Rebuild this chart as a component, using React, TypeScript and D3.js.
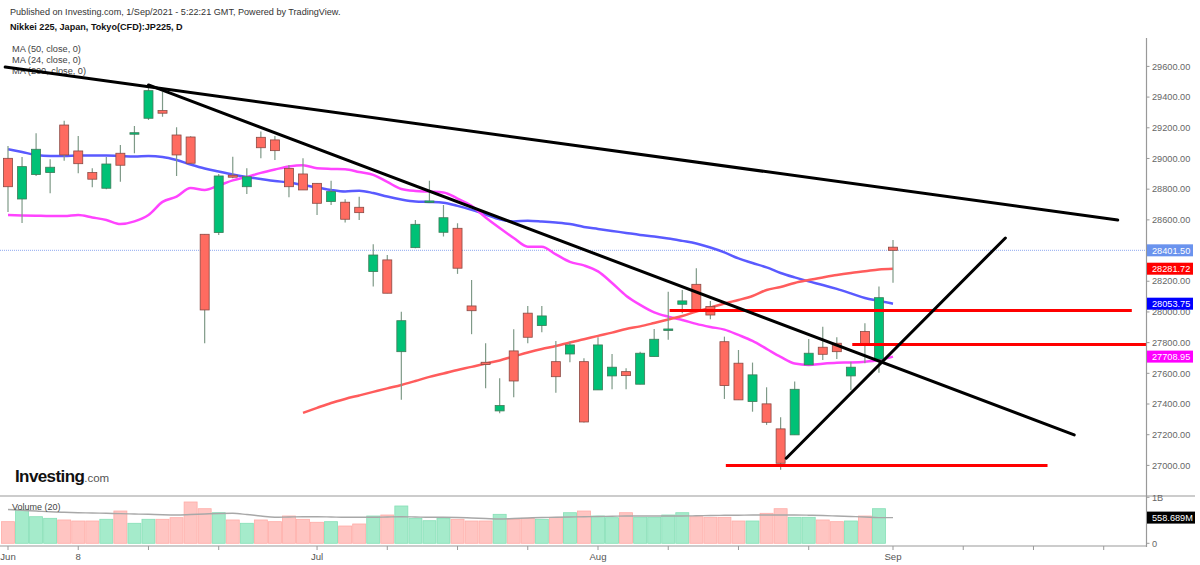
import React from 'react';
import * as d3 from 'd3';

// Nikkei 225 CFD daily, Jun 1 – Sep 1 2021 (Japanese trading days)
const opens = [
  29001, 28736, 28895, 28908, 29218, 29049, 28908, 28806, 29034, 29158,
  29262, 29312, 29153, 29140, 28506, 28517, 28891, 28816, 29138, 29121,
  28935, 28899, 28838, 28719, 28715, 28682, 28263, 28339, 27741, 28419,
  28717, 28519, 28545, 28039, 27672, 27355, 27746, 27992, 27911, 27676,
  27726, 27676, 27492, 27583, 27611, 27529, 27709, 27887, 28050, 28180,
  28035, 27806, 27666, 27416, 27401, 27238, 27199, 27655, 27770, 27796,
  27583, 27872, 27692, 28422,
];
const highs = [
  29082, 29010, 29164, 28995, 29246, 29147, 28936, 29010, 29088, 29212,
  29479, 29435, 29203, 29145, 28506, 28899, 29012, 28936, 29175, 29147,
  28958, 29001, 28838, 28855, 28734, 28751, 28441, 28371, 28002, 28599,
  28855, 28697, 28578, 28208, 27796, 27568, 27887, 28039, 28039, 27811,
  27806, 27698, 27835, 27726, 27633, 27741, 27889, 28132, 28143, 28285,
  28072, 27839, 27752, 27670, 27509, 27314, 27546, 27824, 27904, 27835,
  27676, 27926, 28165, 28469,
];
const lows = [
  28652, 28580, 28886, 28773, 28986, 28904, 28812, 28800, 28849, 29034,
  29251, 29272, 28886, 28965, 27796, 28502, 28871, 28769, 29001, 28990,
  28747, 28795, 28632, 28697, 28582, 28599, 28165, 28122, 27427, 28415,
  28717, 28491, 28248, 27855, 27503, 27340, 27444, 27796, 27868, 27474,
  27672, 27279, 27492, 27496, 27496, 27529, 27709, 27818, 27992, 28013,
  27952, 27433, 27427, 27350, 27264, 26971, 27199, 27655, 27687, 27694,
  27492, 27666, 27604, 28191,
];
const closes = [
  28816, 28947, 29060, 28943, 29023, 28966, 28865, 28964, 28956, 29168,
  29442, 29295, 29023, 28969, 28013, 28886, 28878, 28881, 29070, 29051,
  28816, 28795, 28708, 28784, 28604, 28647, 28371, 28122, 27943, 28571,
  28723, 28614, 28285, 28008, 27657, 27390, 27550, 27835, 27974, 27578,
  27785, 27283, 27785, 27640, 27585, 27731, 27822, 27889, 28072, 28013,
  27980, 27520, 27427, 27590, 27281, 27014, 27496, 27731, 27724, 27741,
  27640, 27790, 28093, 28401.5,
];

// Moving averages
const ma50 = [
  29060, 29042, 29023, 29016, 29016, 29020, 29020, 29020, 29016, 29013,
  29016, 29010, 28990, 28961, 28935, 28915, 28896, 28880, 28866, 28853,
  28844, 28827, 28812, 28795, 28785, 28790, 28775, 28752, 28733, 28720,
  28717, 28712, 28691, 28665, 28635, 28603, 28590, 28595, 28590, 28583,
  28573, 28554, 28541, 28528, 28515, 28502, 28492, 28479, 28463, 28446,
  28420, 28388, 28349, 28319, 28290, 28254, 28225, 28199, 28176, 28150,
  28121, 28091, 28072, 28053.75,
];
const ma24 = [
  28632, 28629, 28627, 28625, 28625, 28632, 28616, 28599, 28573, 28590,
  28632, 28717, 28752, 28808, 28795, 28824, 28857, 28880, 28906, 28928,
  28948, 28956, 28936, 28932, 28930, 28912, 28893, 28847, 28801, 28788,
  28784, 28779, 28739, 28691, 28616, 28547, 28482, 28425, 28425, 28375,
  28326, 28303, 28264, 28189, 28106, 28046, 27997, 27969, 27948, 27922,
  27902, 27885, 27850, 27811, 27759, 27707, 27664, 27655, 27663, 27669,
  27671, 27676, 27687, 27708.95,
];
const ma200Start = 21;
const ma200 = [
  27342, 27375, 27407, 27433, 27456, 27479, 27502, 27524, 27550, 27577,
  27599, 27622, 27642, 27664, 27684, 27710, 27736, 27759, 27778, 27801,
  27822, 27844, 27865, 27889, 27906, 27928, 27951, 27974, 28003, 28028,
  28055, 28078, 28104, 28143, 28163, 28189, 28208, 28225, 28241, 28254,
  28265, 28277, 28281.72,
];

// Volume (millions) and its 20-period average
const volumes = [
  470, 724, 578, 543, 507, 485, 485, 522, 702, 435,
  522, 522, 557, 898, 752, 665, 507, 435, 507, 470,
  593, 522, 457, 470, 376, 420, 593, 615, 811, 543,
  491, 543, 522, 485, 485, 630, 522, 543, 522, 565,
  665, 702, 593, 557, 665, 565, 565, 615, 665, 578,
  565, 565, 485, 485, 652, 752, 565, 565, 507, 470,
  485, 593, 752, 0,
];
const volMa = [
  735, 717, 702, 685, 674, 665, 659, 652, 646, 637,
  630, 620, 615, 626, 637, 648, 652, 626, 593, 565,
  572, 578, 578, 572, 565, 565, 565, 572, 578, 572,
  565, 565, 561, 550, 539, 528, 539, 550, 561, 565,
  572, 578, 583, 587, 593, 593, 593, 593, 593, 598,
  604, 609, 611, 615, 615, 615, 615, 611, 604, 593,
  583, 572, 559, 558.689,
];

// Drawn trend lines (bar index, price) and horizontal levels
const trendLines = [
  { i1: -0.2, p1: 29596, i2: 79, p2: 28599 },
  { i1: 10, p1: 29479, i2: 75.9, p2: 27199 },
  { i1: 55.4, p1: 27047, i2: 71, p2: 28482 },
];
const levels = [
  { price: 28010, from: 47.1, to: 80 },
  { price: 27788, from: 60.1, to: 81.1 },
  { price: 27000, from: 51.1, to: 74 },
];

const priceTicks = [27000, 27200, 27400, 27600, 27800, 28000, 28200, 28400, 28600, 28800, 29000, 29200, 29400, 29600];
const monthLabels = [
  { i: 0, label: 'Jun' },
  { i: 5, label: '8' },
  { i: 22, label: 'Jul' },
  { i: 42, label: 'Aug' },
  { i: 63, label: 'Sep' },
];
const minorTicks = [10, 15, 27, 32, 37, 47, 52, 57, 68, 73, 78];

const priceBadges = [
  { value: 28401.5, text: '28401.50', color: '#6a93ee' },
  { value: 28281.72, text: '28281.72', color: '#ff0000' },
  { value: 28053.75, text: '28053.75', color: '#0000ff' },
  { value: 27708.95, text: '27708.95', color: '#ff00ff' },
];
const maLegend = ['MA (50, close, 0)', 'MA (24, close, 0)', 'MA (200, close, 0)'];

const FONT = 'Arial, "Liberation Sans", sans-serif';
const UP = '#00c176';
const DOWN = '#ff6b60';

export default function App() {
  const axisX = 1146.5;
  const x = d3.scaleLinear().domain([0, 63]).range([8, 893]);
  const y = d3.scaleLinear().domain([27000, 29600]).range([465.4, 66.4]);
  const yv = d3.scaleLinear().domain([0, 1000]).range([543.3, 497.3]);

  const line = d3
    .line<number>()
    .x((_, i) => x(i))
    .y((d) => y(d))
    .curve(d3.curveMonotoneX);
  const line200 = d3
    .line<number>()
    .x((_, i) => x(i + ma200Start))
    .y((d) => y(d))
    .curve(d3.curveMonotoneX);
  const volLine = d3
    .line<number>()
    .x((_, i) => x(i))
    .y((d) => yv(d))
    .curve(d3.curveMonotoneX);

  const cw = 9;
  const vw = 13;

  return (
    <>
      <style>{'body{margin:0}'}</style>
      <svg width={1200} height={565} style={{ display: 'block', fontFamily: FONT, background: '#fff' }}>
        <defs>
          <clipPath id="pricePane">
            <rect x={0} y={38} width={axisX} height={457} />
          </clipPath>
          <clipPath id="volPane">
            <rect x={0} y={497} width={axisX} height={49} />
          </clipPath>
        </defs>

        {/* header */}
        <text x={10} y={15} fontSize={9.1} fill="#333">
          Published on Investing.com, 1/Sep/2021 - 5:22:21 GMT, Powered by TradingView.
        </text>
        <text x={10} y={30} fontSize={9.1} fontWeight="bold" fill="#111">
          Nikkei 225, Japan, Tokyo(CFD):JP225, D
        </text>
        {maLegend.map((t, k) => (
          <text key={t} x={12} y={52 + k * 11} fontSize={9.2} fill="#444">
            {t}
          </text>
        ))}

        {/* last price dotted line */}
        <line x1={0} x2={axisX} y1={y(28401.5)} y2={y(28401.5)} stroke="#8fa8f0" strokeDasharray="1,1" />

        <g clipPath="url(#pricePane)">
          {/* moving averages */}
          <path d={line(ma50) ?? ''} fill="none" stroke="#5a5aff" strokeWidth={2.5} />
          <path d={line(ma24) ?? ''} fill="none" stroke="#ff44ff" strokeWidth={2.5} />
          <path d={line200(ma200) ?? ''} fill="none" stroke="#ff5c5c" strokeWidth={2.5} />

          {/* candles */}
          {opens.map((o, i) => {
            const c = closes[i];
            const up = c >= o;
            const top = y(Math.max(o, c));
            const h = Math.max(1.5, y(Math.min(o, c)) - top);
            return (
              <g key={i}>
                <line x1={x(i)} x2={x(i)} y1={y(highs[i])} y2={y(lows[i])} stroke="#7f9a88" strokeWidth={1.2} />
                <rect
                  x={x(i) - cw / 2}
                  y={top}
                  width={cw}
                  height={h}
                  fill={up ? UP : DOWN}
                  stroke={up ? '#3f7a58' : '#8a4a44'}
                  strokeWidth={0.8}
                />
              </g>
            );
          })}

          {/* drawings */}
          {levels.map((l, k) => (
            <line key={k} x1={x(l.from)} x2={x(l.to)} y1={y(l.price)} y2={y(l.price)} stroke="#ff0000" strokeWidth={3} />
          ))}
          {trendLines.map((t, k) => (
            <line
              key={k}
              x1={x(t.i1)}
              y1={y(t.p1)}
              x2={x(t.i2)}
              y2={y(t.p2)}
              stroke="#000"
              strokeWidth={3}
              strokeLinecap="round"
            />
          ))}
        </g>

        {/* Investing.com logo */}
        <text x={15} y={482} fontSize={17} fontWeight="bold" fill="#111" letterSpacing={-0.6}>
          Investing
          <tspan fontSize={11.5} fontWeight="normal" fill="#555" letterSpacing={0}>
            .com
          </tspan>
        </text>

        {/* volume pane */}
        <line x1={0} x2={1195} y1={496} y2={496} stroke="#999" strokeWidth={1.2} />
        <g clipPath="url(#volPane)">
          {volumes.map((v, i) => {
            const up = closes[i] >= opens[i];
            return (
              <rect
                key={i}
                x={x(i) - vw / 2}
                y={yv(v)}
                width={vw}
                height={yv(0) - yv(v)}
                fill={up ? '#a5ebcb' : '#ffc5c2'}
                stroke={up ? '#86dfb6' : '#ffaca7'}
                strokeWidth={0.8}
              />
            );
          })}
          <path d={volLine(volMa) ?? ''} fill="none" stroke="#a8a8a8" strokeWidth={1.4} />
        </g>
        <text x={12} y={510} fontSize={9} fill="#444">
          Volume (20)
        </text>

        {/* x axis */}
        <line x1={0} x2={axisX} y1={546} y2={546} stroke="#999" strokeWidth={1.2} />
        {minorTicks.map((i) => (
          <line key={i} x1={x(i)} x2={x(i)} y1={546} y2={550} stroke="#999" />
        ))}
        {monthLabels.map((m) => (
          <g key={m.label}>
            <line x1={x(m.i)} x2={x(m.i)} y1={546} y2={550} stroke="#999" />
            <text x={x(m.i)} y={560} fontSize={9.6} fill="#555" textAnchor="middle">
              {m.label}
            </text>
          </g>
        ))}

        {/* y axis */}
        <line x1={axisX} x2={axisX} y1={38} y2={547} stroke="#999" strokeWidth={1.2} />
        {priceTicks.map((p) => (
          <g key={p}>
            <line x1={axisX} x2={axisX + 3} y1={y(p)} y2={y(p)} stroke="#999" />
            <text x={1152} y={y(p)} dy="0.35em" fontSize={9.2} fill="#666">
              {d3.format('.2f')(p)}
            </text>
          </g>
        ))}
        <line x1={axisX} x2={axisX + 3} y1={yv(1000)} y2={yv(1000)} stroke="#999" />
        <text x={1152} y={yv(1000)} dy="0.35em" fontSize={9.2} fill="#666">
          1B
        </text>
        <line x1={axisX} x2={axisX + 3} y1={yv(0)} y2={yv(0)} stroke="#999" />
        <text x={1152} y={yv(0)} dy="0.35em" fontSize={9.2} fill="#666">
          0
        </text>

        {/* price badges */}
        {priceBadges.map((b) => (
          <g key={b.text}>
            <rect x={axisX + 0.5} y={y(b.value) - 6} width={46} height={12} fill={b.color} />
            <text x={1152} y={y(b.value)} dy="0.35em" fontSize={9.2} fill="#fff">
              {b.text}
            </text>
          </g>
        ))}
        <rect x={axisX + 0.5} y={yv(558.689) - 6} width={48} height={12} fill="#000" />
        <text x={1152} y={yv(558.689)} dy="0.35em" fontSize={9.2} fill="#fff">
          558.689M
        </text>
      </svg>
    </>
  );
}
